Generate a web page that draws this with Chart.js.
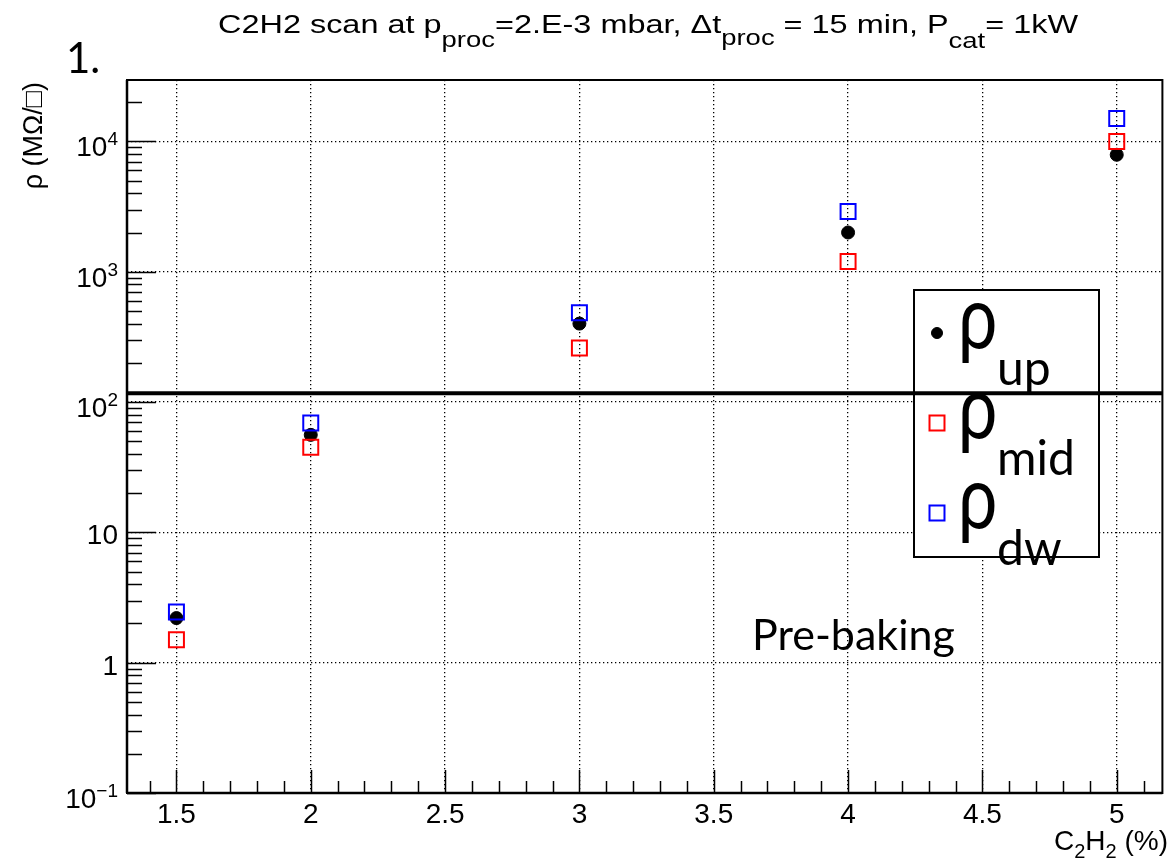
<!DOCTYPE html>
<html>
<head>
<meta charset="utf-8">
<title>C2H2 scan</title>
<script src="https://cdn.jsdelivr.net/npm/chart.js@4.4.1/dist/chart.umd.min.js"></script>
<style>
  html, body { margin: 0; padding: 0; background: #fff; }
  canvas { display: block; }
</style>
</head>
<body>
<canvas id="scan" width="1175" height="860"></canvas>
<script>
// values (log y)
const c2h2 = [1.5, 2, 3, 4, 5];
const rhoUp = [2.2, 56, 400, 2000, 7900];
const rhoMid = [1.5, 45, 260, 1200, 10000];
const rhoDw = [2.45, 69, 485, 2900, 15000];

const xTicks = [1.5, 2, 2.5, 3, 3.5, 4, 4.5, 5];
const xTickLabels = ["1.5", "2", "2.5", "3", "3.5", "4", "4.5", "5"];
const yTicks = [0.1, 1, 10, 100, 1000, 10000];
const yTickLabels = [["10", "\u22121"], ["1", ""], ["10", ""], ["10", "2"], ["10", "3"], ["10", "4"]];
const xRange = [1.316, 5.17];
const yRange = [0.1, 29600];
const limit = [117]; // thick horizontal line
const legendSub = ["up", "mid", "dw"];

const ROOT_FONT = '"Liberation Sans", Arial, sans-serif';
const NOTE_FONT = 'Lato, "DejaVu Sans", sans-serif';

function line(ctx, x1, y1, x2, y2) {
  ctx.beginPath();
  ctx.moveTo(x1, y1);
  ctx.lineTo(x2, y2);
  ctx.stroke();
}

// text with sub/superscripts, parts = [[text, shift, size], ...]
function richWidth(ctx, parts) {
  let w = 0;
  for (const p of parts) {
    ctx.font = p[2] + "px " + ROOT_FONT;
    w += ctx.measureText(p[0]).width;
  }
  return w;
}
function richText(ctx, parts, x, y) {
  for (const p of parts) {
    ctx.font = p[2] + "px " + ROOT_FONT;
    ctx.fillText(p[0], x, y + p[1]);
    x += ctx.measureText(p[0]).width;
  }
}

const rootDecor = {
  id: "rootDecor",
  afterDraw(chart) {
    const { ctx, chartArea: a, scales: { x, y } } = chart;
    ctx.save();
    ctx.fillStyle = "#000";
    ctx.strokeStyle = "#000";

    // tick marks inside the frame
    ctx.lineWidth = 1.5;
    for (let i = 13; i <= 52; i++) {
      const v = i / 10;
      if (v < xRange[0] || v > xRange[1]) continue;
      const px = Math.round(x.getPixelForValue(v)) + 0.5;
      line(ctx, px, a.bottom, px, a.bottom - (i % 5 === 0 ? 23 : 12));
    }
    for (let e = -1; e <= 4; e++) {
      for (let k = 1; k <= 9; k++) {
        const v = k * Math.pow(10, e);
        if (v < yRange[0] * 0.999 || v > yRange[1]) continue;
        const py = Math.round(y.getPixelForValue(v)) + 0.5;
        line(ctx, a.left, py, a.left + (k === 1 ? 29 : 15), py);
      }
    }

    // frame
    ctx.lineWidth = 2;
    ctx.strokeRect(a.left, a.top, a.right - a.left, a.bottom - a.top);
    ctx.lineWidth = 2.5;
    line(ctx, a.left, a.top, a.left, a.bottom);
    line(ctx, a.left, a.bottom, a.right, a.bottom);

    // x tick labels
    ctx.textAlign = "center";
    ctx.textBaseline = "alphabetic";
    ctx.font = "28px " + ROOT_FONT;
    xTicks.forEach((v, i) => ctx.fillText(xTickLabels[i], x.getPixelForValue(v), a.bottom + 30));

    // y tick labels
    ctx.textAlign = "left";
    yTicks.forEach((v, i) => {
      const [base, sup] = yTickLabels[i];
      const py = y.getPixelForValue(v);
      const parts = sup ? [[base, 15, 28], [sup, 4, 19]] : [[base, 12, 28]];
      const w = richWidth(ctx, parts);
      richText(ctx, parts, a.left - 9 - w, py);
    });

    // axis titles
    const xt = [["C", 0, 28], ["2", 8, 20], ["H", 0, 28], ["2", 8, 20], [" (%)", 0, 28]];
    richText(ctx, xt, 1168 - richWidth(ctx, xt), 850);

    ctx.save();
    ctx.translate(35, a.top + 2);
    ctx.rotate(-Math.PI / 2);
    ctx.textAlign = "right";
    ctx.textBaseline = "middle";
    ctx.font = "27px " + ROOT_FONT;
    ctx.fillText("\u03c1 (M\u03a9/\u25a1)", 0, 0);
    ctx.restore();

    // title
    const tt = [["C2H2 scan at p", 0, 26], ["proc", 14, 22], ["=2.E-3 mbar, \u0394t", 0, 26], ["proc", 12, 22],
                [" = 15 min, P", 0, 26], ["cat", 15, 22], ["= 1kW", 0, 26]];
    const tw = richWidth(ctx, tt);
    ctx.save();
    ctx.translate(218, 33);
    ctx.scale(860 / tw, 1);
    richText(ctx, tt, 0, 0);
    ctx.restore();

    // legend box
    const lx = 914, ly = 290, lw = 185, lh = 267;
    ctx.fillStyle = "#fff";
    ctx.fillRect(lx, ly, lw, lh);
    ctx.lineWidth = 2;
    ctx.strokeStyle = "#000";
    ctx.strokeRect(lx, ly, lw, lh);
    ctx.fillStyle = "#000";
    chart.data.datasets.forEach((ds, i) => {
      const cy = 333 + 90 * i;
      ctx.save();
      ctx.lineWidth = ds.borderWidth;
      ctx.strokeStyle = ds.borderColor;
      ctx.fillStyle = ds.backgroundColor;
      Chart.helpers.drawPoint(ctx, {
        pointStyle: ds.pointStyle,
        radius: ds.pointStyle === "circle" ? 5.5 : ds.pointRadius,
        borderWidth: ds.borderWidth,
        rotation: 0
      }, 937, cy);
      ctx.restore();
      ctx.textAlign = "left";
      ctx.save();
      ctx.translate(958, cy + 15);
      ctx.scale(1, 1.25);
      ctx.font = "70px " + NOTE_FONT;
      ctx.fillText("\u03c1", 0, 0);
      ctx.restore();
      ctx.font = "48px " + NOTE_FONT;
      ctx.fillText(legendSub[i], 997, cy + 52);
    });

    // threshold line
    const ly2 = y.getPixelForValue(limit[0]);
    ctx.lineWidth = 4;
    line(ctx, a.left, ly2, a.right, ly2);

    // annotations
    ctx.font = "43px " + NOTE_FONT;
    ctx.fillText("Pre-baking", 752, 650);
    ctx.font = "42px " + NOTE_FONT;
    ctx.fillText("1.", 66, 73);

    ctx.restore();
  }
};

const toPoints = (vals) => vals.map((v, i) => ({ x: c2h2[i], y: v }));

new Chart(document.getElementById("scan"), {
  type: "scatter",
  data: {
    datasets: [
      {
        label: "up",
        data: toPoints(rhoUp),
        pointStyle: "circle",
        pointRadius: 6.5,
        borderWidth: 1,
        borderColor: "#000",
        backgroundColor: "#000",
        order: 2
      },
      {
        label: "mid",
        data: toPoints(rhoMid),
        pointStyle: "rect",
        pointRadius: 10.6,
        borderWidth: 2,
        borderColor: "#ff0000",
        backgroundColor: "rgba(0,0,0,0)",
        order: 1
      },
      {
        label: "dw",
        data: toPoints(rhoDw),
        pointStyle: "rect",
        pointRadius: 10.6,
        borderWidth: 2,
        borderColor: "#0000ff",
        backgroundColor: "rgba(0,0,0,0)",
        order: 0
      }
    ]
  },
  options: {
    responsive: false,
    animation: false,
    devicePixelRatio: 1,
    layout: { padding: { left: 127, top: 80, right: 5, bottom: 67 } },
    plugins: {
      legend: { display: false },
      title: { display: false },
      tooltip: { enabled: false }
    },
    scales: {
      x: {
        type: "linear",
        min: xRange[0],
        max: xRange[1],
        afterBuildTicks: (s) => { s.ticks = xTicks.map(v => ({ value: v })); },
        ticks: { display: false },
        grid: { color: "#000", lineWidth: 1.3, drawTicks: false },
        border: { display: false, dash: [1.3, 2.7] }
      },
      y: {
        type: "logarithmic",
        min: yRange[0],
        max: yRange[1],
        afterBuildTicks: (s) => { s.ticks = yTicks.slice(1).map(v => ({ value: v })); },
        ticks: { display: false },
        grid: { color: "#000", lineWidth: 1.3, drawTicks: false },
        border: { display: false, dash: [1.3, 2.7] }
      }
    }
  },
  plugins: [rootDecor]
});
</script>
</body>
</html>
